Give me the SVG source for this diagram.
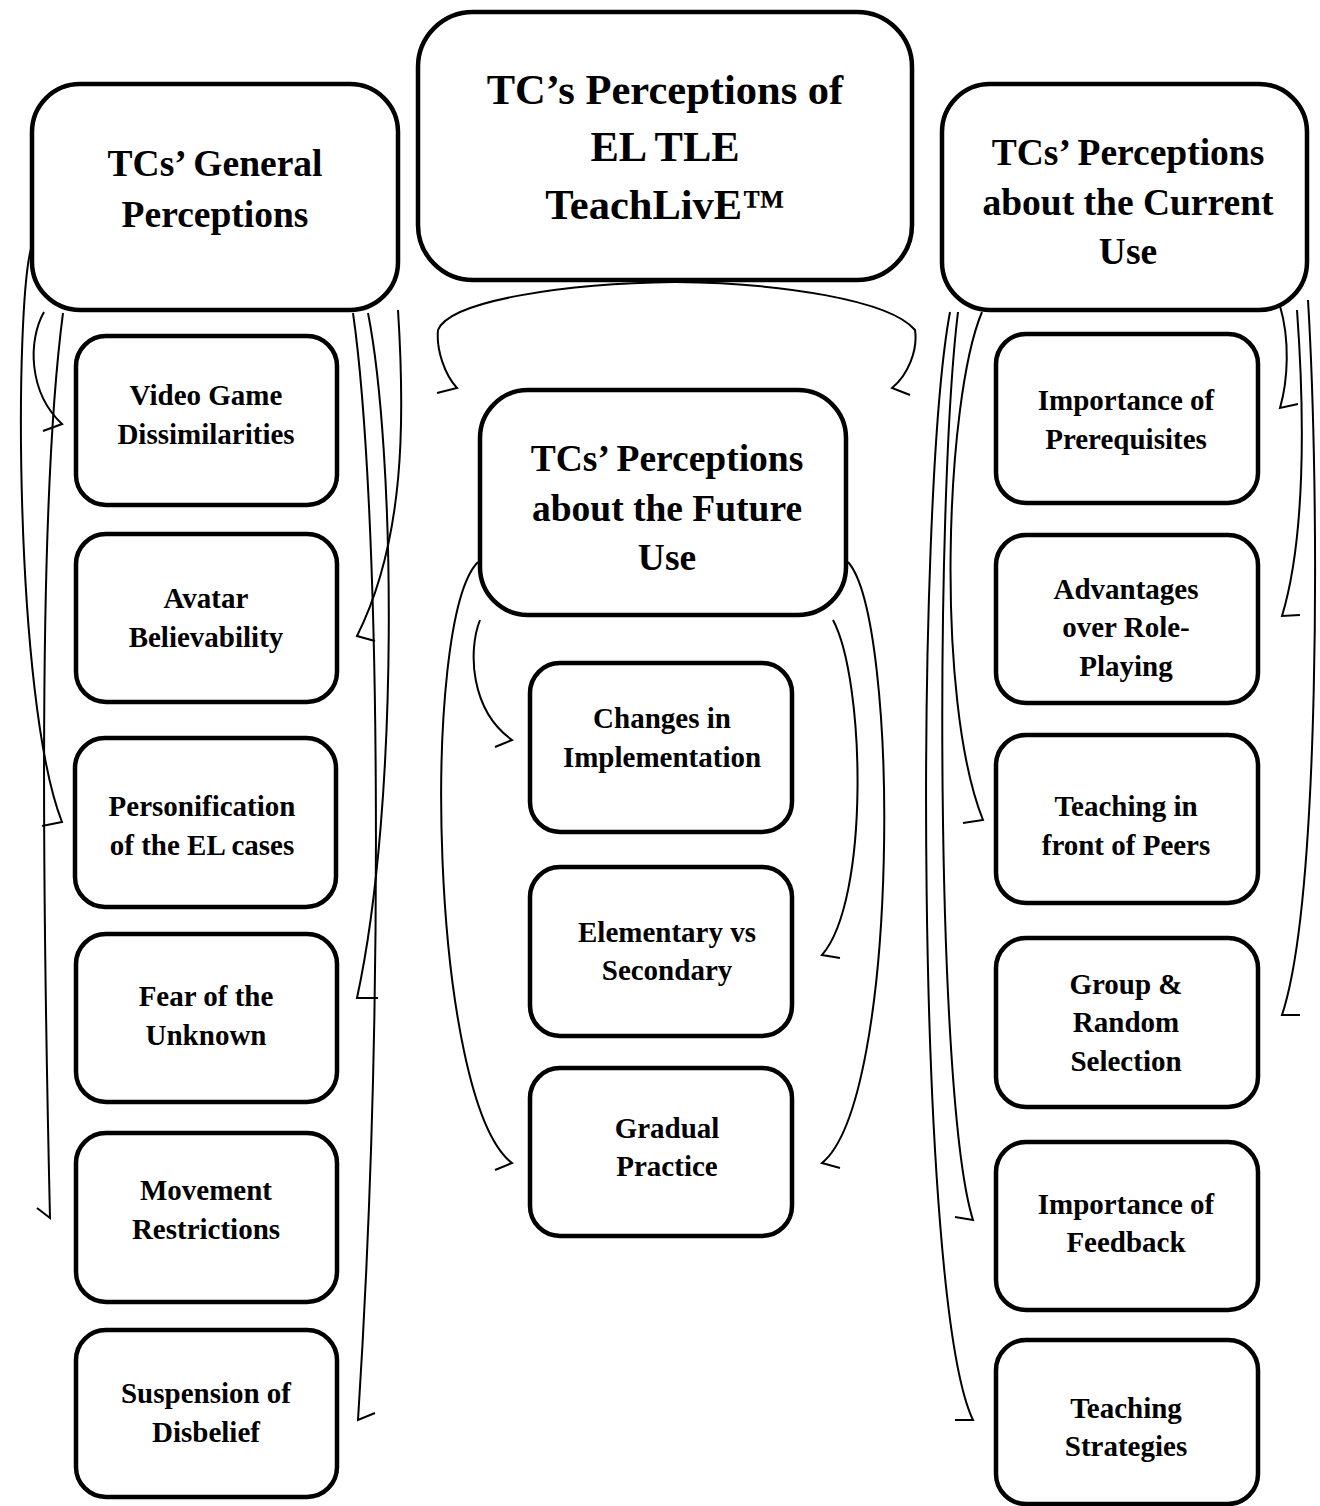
<svg xmlns="http://www.w3.org/2000/svg" width="1320" height="1506" viewBox="0 0 1320 1506">
<style>
.box{fill:#fff;stroke:#000;stroke-width:4.5}
.t{font-family:"Liberation Serif","Times New Roman",serif;font-weight:bold;text-anchor:middle;fill:#000}
.title{font-size:42.5px}
.head{font-size:37.5px}
.child{font-size:29px}
.c{fill:none;stroke:#000;stroke-width:2;stroke-linejoin:miter}
</style>
<rect width="1320" height="1506" fill="#fff"/>
<g id="connectors">
<path class="c" d="M44,312 C28,340 28,392 62,424 L43,431"/>
<path class="c" d="M32,245 C14,300 14,700 62,822 L42,826"/>
<path class="c" d="M63,313 C45,450 38,700 50,1218 L37,1208"/>
<path class="c" d="M398,310 C405,420 405,540 357,636 L375,641"/>
<path class="c" d="M368,313 C395,450 400,800 357,998 L378,998"/>
<path class="c" d="M353,313 C380,500 385,1000 358,1420 L375,1413"/>
<path class="c" d="M437,393 L457,388 C445,375 436,350 438,330 C450,300 570,283 675,282 C780,283 890,300 915,330 C918,350 908,375 892,388 L910,395"/>
<path class="c" d="M480,620 C468,650 470,710 512,740 L495,747"/>
<path class="c" d="M478,562 C420,620 430,1100 512,1163 L495,1170"/>
<path class="c" d="M833,620 C865,680 870,900 822,955 L840,958"/>
<path class="c" d="M848,562 C900,620 900,1100 822,1163 L840,1168"/>
<path class="c" d="M982,312 C945,400 935,700 983,820 L963,823"/>
<path class="c" d="M958,312 C935,500 935,1100 973,1220 L955,1217"/>
<path class="c" d="M950,312 C915,500 915,1300 973,1420 L955,1420"/>
<path class="c" d="M1280,306 C1290,340 1288,380 1280,408 L1298,404"/>
<path class="c" d="M1297,310 C1305,420 1305,540 1282,616 L1300,615"/>
<path class="c" d="M1308,300 C1320,500 1320,900 1282,1015 L1300,1015"/>
</g>
<g id="title">
<rect class="box" x="418" y="12" width="494" height="268" rx="55"/>
<text class="t title" x="665" y="104">TC’s Perceptions of</text>
<text class="t title" x="665" y="161">EL TLE</text>
<text class="t title" x="665" y="219">TeachLivE™</text>
</g>
<g id="general">
<rect class="box" x="32" y="84" width="366" height="226" rx="48"/>
<text class="t head" x="215" y="176">TCs’ General</text>
<text class="t head" x="215" y="227">Perceptions</text>
</g>
<g id="current">
<rect class="box" x="942" y="84" width="365" height="226" rx="48"/>
<text class="t head" x="1128" y="165">TCs’ Perceptions</text>
<text class="t head" x="1128" y="215">about the Current</text>
<text class="t head" x="1128" y="264">Use</text>
</g>
<g id="future">
<rect class="box" x="480" y="390" width="366" height="225" rx="48"/>
<text class="t head" x="667" y="471">TCs’ Perceptions</text>
<text class="t head" x="667" y="521">about the Future</text>
<text class="t head" x="667" y="570">Use</text>
</g>
<g id="video">
<rect class="box" x="76" y="336" width="261" height="169" rx="30"/>
<text class="t child" x="206" y="405">Video Game</text>
<text class="t child" x="206" y="444">Dissimilarities</text>
</g>
<g id="avatar">
<rect class="box" x="76" y="534" width="261" height="168" rx="30"/>
<text class="t child" x="206" y="608">Avatar</text>
<text class="t child" x="206" y="647">Believability</text>
</g>
<g id="personification">
<rect class="box" x="75" y="738" width="261" height="169" rx="30"/>
<text class="t child" x="202" y="816">Personification</text>
<text class="t child" x="202" y="855">of the EL cases</text>
</g>
<g id="fear">
<rect class="box" x="76" y="934" width="261" height="168" rx="30"/>
<text class="t child" x="206" y="1006">Fear of the</text>
<text class="t child" x="206" y="1045">Unknown</text>
</g>
<g id="movement">
<rect class="box" x="76" y="1133" width="261" height="169" rx="30"/>
<text class="t child" x="206" y="1200">Movement</text>
<text class="t child" x="206" y="1239">Restrictions</text>
</g>
<g id="suspension">
<rect class="box" x="76" y="1330" width="261" height="167" rx="30"/>
<text class="t child" x="206" y="1403">Suspension of</text>
<text class="t child" x="206" y="1442">Disbelief</text>
</g>
<g id="changes">
<rect class="box" x="530" y="663" width="262" height="169" rx="30"/>
<text class="t child" x="662" y="728">Changes in</text>
<text class="t child" x="662" y="767">Implementation</text>
</g>
<g id="elementary">
<rect class="box" x="530" y="867" width="262" height="169" rx="30"/>
<text class="t child" x="667" y="942">Elementary vs</text>
<text class="t child" x="667" y="980">Secondary</text>
</g>
<g id="gradual">
<rect class="box" x="530" y="1068" width="262" height="168" rx="30"/>
<text class="t child" x="667" y="1138">Gradual</text>
<text class="t child" x="667" y="1176">Practice</text>
</g>
<g id="prerequisites">
<rect class="box" x="996" y="334" width="262" height="169" rx="30"/>
<text class="t child" x="1126" y="410">Importance of</text>
<text class="t child" x="1126" y="449">Prerequisites</text>
</g>
<g id="advantages">
<rect class="box" x="996" y="535" width="262" height="168" rx="30"/>
<text class="t child" x="1126" y="599">Advantages</text>
<text class="t child" x="1126" y="637">over Role-</text>
<text class="t child" x="1126" y="676">Playing</text>
</g>
<g id="peers">
<rect class="box" x="996" y="735" width="262" height="168" rx="30"/>
<text class="t child" x="1126" y="816">Teaching in</text>
<text class="t child" x="1126" y="855">front of Peers</text>
</g>
<g id="group">
<rect class="box" x="996" y="938" width="262" height="169" rx="30"/>
<text class="t child" x="1126" y="994">Group &amp;</text>
<text class="t child" x="1126" y="1032">Random</text>
<text class="t child" x="1126" y="1071">Selection</text>
</g>
<g id="feedback">
<rect class="box" x="996" y="1142" width="262" height="168" rx="30"/>
<text class="t child" x="1126" y="1214">Importance of</text>
<text class="t child" x="1126" y="1252">Feedback</text>
</g>
<g id="strategies">
<rect class="box" x="996" y="1340" width="262" height="164" rx="30"/>
<text class="t child" x="1126" y="1418">Teaching</text>
<text class="t child" x="1126" y="1456">Strategies</text>
</g>
</svg>
